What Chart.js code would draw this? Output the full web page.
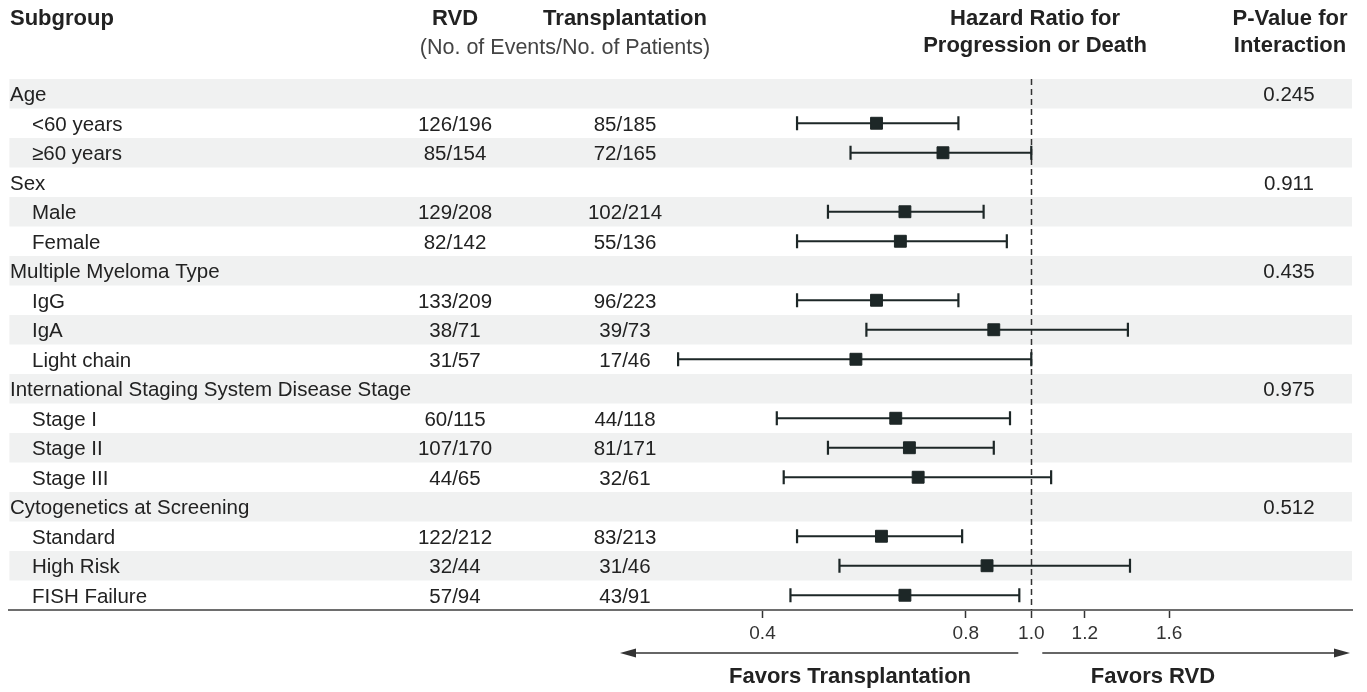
<!DOCTYPE html>
<html>
<head>
<meta charset="utf-8">
<script src="https://cdn.jsdelivr.net/npm/chart.js@4.4.1/dist/chart.umd.min.js"></script>
<style>
  html, body { margin: 0; padding: 0; background: #ffffff; }
  #wrap { width: 1367px; height: 692px; position: relative; }
</style>
</head>
<body>
<div id="wrap"><canvas id="forest"></canvas></div>
<script>
// Subgroup rows, top to bottom
const subgroups = ['Age', '<60 years', '\u226560 years', 'Sex', 'Male', 'Female',
  'Multiple Myeloma Type', 'IgG', 'IgA', 'Light chain',
  'International Staging System Disease Stage', 'Stage I', 'Stage II', 'Stage III',
  'Cytogenetics at Screening', 'Standard', 'High Risk', 'FISH Failure'];
// 0 = group heading, 1 = subgroup within a heading
const rowLevel = [0, 1, 1, 0, 1, 1, 0, 1, 1, 1, 0, 1, 1, 1, 0, 1, 1, 1];
// No. of events / no. of patients
const rvdEvents = ['', '126/196', '85/154', '', '129/208', '82/142', '', '133/209', '38/71', '31/57',
  '', '60/115', '107/170', '44/65', '', '122/212', '32/44', '57/94'];
const txEvents = ['', '85/185', '72/165', '', '102/214', '55/136', '', '96/223', '39/73', '17/46',
  '', '44/118', '81/171', '32/61', '', '83/213', '31/46', '43/91'];
const pInteraction = ['0.245', '', '', '0.911', '', '', '0.435', '', '', '', '0.975', '', '', '', '0.512', '', '', ''];
// Hazard ratio and 95% CI bounds
const hazardRatio = [null, 0.59, 0.74, null, 0.65, 0.64, null, 0.59, 0.88, 0.55, null, 0.63, 0.66, 0.68, null, 0.60, 0.86, 0.65];
const ciLower = [null, 0.45, 0.54, null, 0.50, 0.45, null, 0.45, 0.57, 0.30, null, 0.42, 0.50, 0.43, null, 0.45, 0.52, 0.44];
const ciUpper = [null, 0.78, 1.00, null, 0.85, 0.92, null, 0.78, 1.39, 1.00, null, 0.93, 0.88, 1.07, null, 0.79, 1.40, 0.96];
const xTickValues = [0.4, 0.8, 1.0, 1.2, 1.6];

const TEXT = '#222222';
const MARK = '#1d2727';
const FONT = '"Liberation Sans", Arial, Helvetica, sans-serif';

const points = [];
hazardRatio.forEach((v, i) => { if (v !== null) points.push({ x: v, y: i }); });

const tablePlugin = {
  id: 'forestTable',
  beforeDraw(chart) {
    const { ctx, chartArea, scales } = chart;
    const y = scales.y;
    ctx.save();
    ctx.fillStyle = '#ffffff';
    ctx.fillRect(0, 0, chart.width, chart.height);
    // alternating row bands
    const half = Math.abs(y.getPixelForValue(1) - y.getPixelForValue(0)) / 2;
    ctx.fillStyle = '#f0f1f1';
    subgroups.forEach((s, i) => {
      if (i % 2 === 0) {
        const yc = y.getPixelForValue(i);
        ctx.fillRect(chartArea.left, yc - half, chartArea.right - chartArea.left, half * 2);
      }
    });
    ctx.restore();
  },
  beforeDatasetsDraw(chart) {
    const { ctx, chartArea, scales } = chart;
    const x = scales.x, y = scales.y;
    ctx.save();
    // reference line at HR = 1
    const x1 = Math.round(x.getPixelForValue(1)) + 0.5;
    ctx.strokeStyle = '#333333';
    ctx.lineWidth = 1.5;
    ctx.setLineDash([6, 4]);
    ctx.beginPath();
    ctx.moveTo(x1, chartArea.top);
    ctx.lineTo(x1, chartArea.bottom);
    ctx.stroke();
    ctx.setLineDash([]);
    // confidence intervals with end caps
    ctx.strokeStyle = MARK;
    ctx.lineWidth = 2.2;
    hazardRatio.forEach((v, i) => {
      if (v === null) return;
      const yc = y.getPixelForValue(i);
      const xl = x.getPixelForValue(ciLower[i]);
      const xr = x.getPixelForValue(ciUpper[i]);
      ctx.beginPath();
      ctx.moveTo(xl, yc); ctx.lineTo(xr, yc);
      ctx.moveTo(xl, yc - 7); ctx.lineTo(xl, yc + 7);
      ctx.moveTo(xr, yc - 7); ctx.lineTo(xr, yc + 7);
      ctx.stroke();
    });
    ctx.restore();
  },
  afterDraw(chart) {
    const { ctx, scales } = chart;
    const x = scales.x, y = scales.y;
    ctx.save();
    ctx.textBaseline = 'middle';
    ctx.fillStyle = TEXT;

    // column headings
    ctx.font = 'bold 22px ' + FONT;
    ctx.textAlign = 'left';
    ctx.fillText('Subgroup', 10, 19);
    ctx.textAlign = 'center';
    ctx.fillText('RVD', 455, 19);
    ctx.fillText('Transplantation', 625, 19);
    ctx.fillText('Hazard Ratio for', 1035, 19);
    ctx.fillText('Progression or Death', 1035, 46);
    ctx.fillText('P-Value for', 1290, 19);
    ctx.fillText('Interaction', 1290, 46);
    ctx.font = '21.5px ' + FONT;
    ctx.fillStyle = '#444444';
    ctx.fillText('(No. of Events/No. of Patients)', 565, 48);

    // table rows
    ctx.fillStyle = TEXT;
    ctx.font = '20.5px ' + FONT;
    subgroups.forEach((s, i) => {
      const yc = y.getPixelForValue(i) + 2;
      ctx.textAlign = 'left';
      ctx.fillText(s, rowLevel[i] === 0 ? 10 : 32, yc);
      ctx.textAlign = 'center';
      if (rvdEvents[i]) ctx.fillText(rvdEvents[i], 455, yc);
      if (txEvents[i]) ctx.fillText(txEvents[i], 625, yc);
      if (pInteraction[i]) ctx.fillText(pInteraction[i], 1289, yc);
    });

    // direction arrows under the axis
    const x1 = x.getPixelForValue(1);
    const ay = 653;
    ctx.strokeStyle = '#333333';
    ctx.fillStyle = '#333333';
    ctx.lineWidth = 1.5;
    const arrow = (from, to) => {
      const dir = Math.sign(to - from);
      ctx.beginPath();
      ctx.moveTo(from, ay); ctx.lineTo(to - dir * 10, ay);
      ctx.stroke();
      ctx.beginPath();
      ctx.moveTo(to, ay);
      ctx.lineTo(to - dir * 16, ay - 4.5);
      ctx.lineTo(to - dir * 16, ay + 4.5);
      ctx.closePath();
      ctx.fill();
    };
    arrow(x1 - 13, 620);
    arrow(x1 + 11, 1350);

    ctx.fillStyle = TEXT;
    ctx.font = 'bold 22px ' + FONT;
    ctx.textAlign = 'center';
    ctx.fillText('Favors Transplantation', 850, 677);
    ctx.fillText('Favors RVD', 1153, 677);
    ctx.restore();
  }
};

new Chart(document.getElementById('forest'), {
  type: 'scatter',
  data: {
    datasets: [{
      data: points,
      pointStyle: 'rect',
      pointRadius: 8.4,
      pointHoverRadius: 8.4,
      pointBorderWidth: 1,
      backgroundColor: MARK,
      borderColor: MARK
    }]
  },
  options: {
    responsive: true,
    maintainAspectRatio: false,
    animation: false,
    events: [],
    layout: { padding: { left: 8, right: 15, top: 79, bottom: 0 } },
    plugins: { legend: { display: false }, tooltip: { enabled: false } },
    scales: {
      x: {
        type: 'logarithmic',
        min: 0.0307,
        max: 2.984,
        afterBuildTicks(scale) {
          scale.ticks = xTickValues.map(v => ({ value: v }));
        },
        afterFit(scale) { scale.height = 82; },
        ticks: {
          autoSkip: false,
          maxRotation: 0,
          padding: 4,
          color: '#333333',
          font: { family: FONT, size: 19 },
          callback: (v) => Number(v).toFixed(1)
        },
        grid: {
          drawOnChartArea: false,
          drawTicks: true,
          tickLength: 8,
          tickWidth: 1.5,
          tickColor: '#333333'
        },
        border: { display: true, color: '#6e6e6e', width: 2 }
      },
      y: {
        type: 'linear',
        min: -0.5,
        max: 17.5,
        reverse: true,
        display: false
      }
    }
  },
  plugins: [tablePlugin]
});
</script>
</body>
</html>
